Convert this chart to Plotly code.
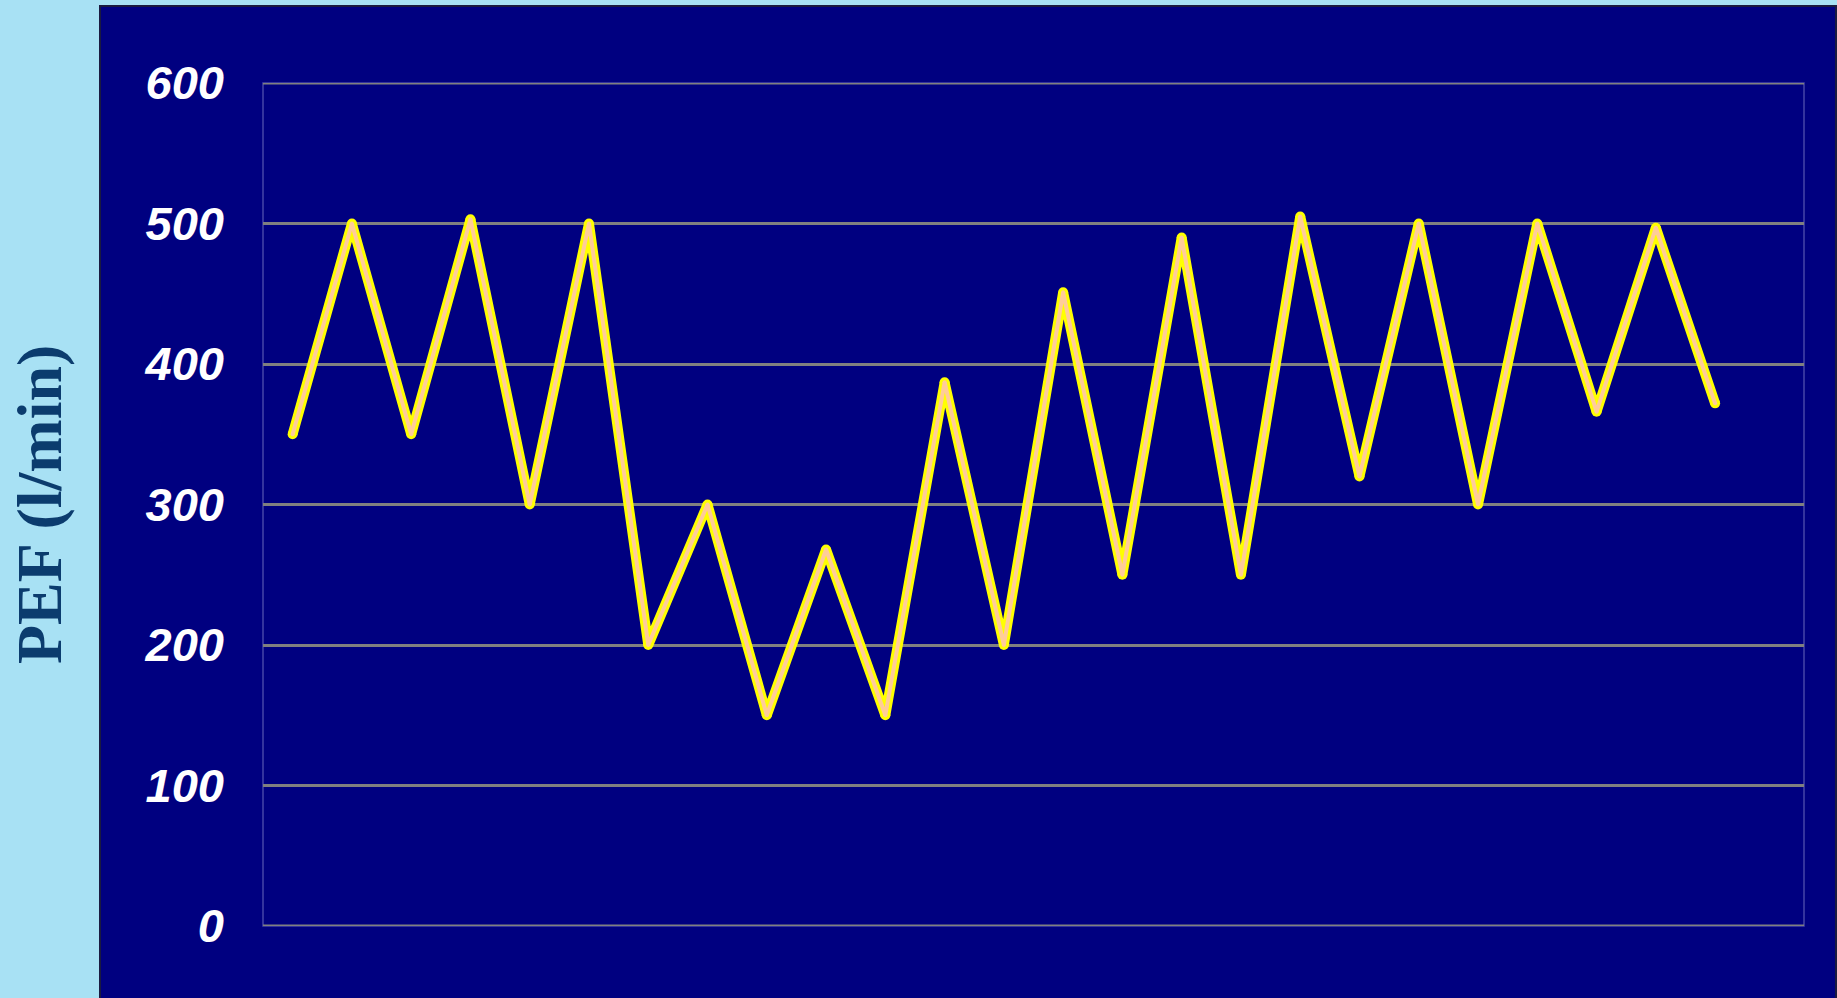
import plotly.graph_objects as go

days = list(range(1, 26))
pef = [350, 500, 350, 503, 300, 500, 200, 300, 150, 268, 150, 387, 200, 451,
       250, 490, 250, 505, 320, 500, 300, 500, 366, 497, 372]
y_ticks = [0, 100, 200, 300, 400, 500, 600]
y_title = "PEF (l/min)"

W, H = 1837, 998
ML, MR, MT, MB = 263, 33, 83, 72
PW, PH = W - ML - MR, H - MT - MB

def px_x(p):
    return (p - ML) / PW

def px_y(p):
    return (H - MB - p) / PH

fig = go.Figure()
fig.add_trace(go.Scatter(x=days, y=pef, mode="lines+markers",
                         line=dict(color="#FFFF00", width=10),
                         marker=dict(color="#FFFF00", size=10, line=dict(width=0)),
                         hoverinfo="skip", showlegend=False))
fig.add_trace(go.Scatter(x=days, y=pef, mode="lines+markers",
                         line=dict(color="#FFCC99", width=4),
                         marker=dict(color="#FFCC99", size=4, line=dict(width=0)),
                         showlegend=False))

fig.add_shape(type="rect", xref="paper", yref="paper",
              x0=px_x(100), x1=px_x(1836), y0=px_y(1004), y1=px_y(6),
              fillcolor="#000080", line=dict(color="#1a1a40", width=2),
              layer="below")
fig.add_shape(type="rect", xref="paper", yref="paper",
              x0=0, x1=1, y0=0, y1=1,
              fillcolor="rgba(0,0,0,0)", line=dict(color="#4646A6", width=1.5),
              layer="below")
for v in (y_ticks[0], y_ticks[-1]):
    fig.add_shape(type="line", xref="paper", yref="y", x0=0, x1=1, y0=v, y1=v,
                  line=dict(color="#808080", width=3), layer="below")

fig.add_annotation(text=y_title, xref="paper", yref="paper",
                   x=px_x(40), y=px_y(505), textangle=-90, showarrow=False,
                   xanchor="center", yanchor="middle",
                   font=dict(family="Liberation Serif", size=64, color="#0B3C6E",
                             weight="bold"))

fig.update_xaxes(range=[0.5, 26.5], showgrid=False, showticklabels=False,
                 zeroline=False, showline=False, ticks="")
fig.update_yaxes(range=[0, 600], tickvals=y_ticks, ticktext=[str(v) for v in y_ticks],
                 showgrid=True, gridcolor="#808080", gridwidth=3,
                 zeroline=False, showline=False, ticks="", ticklabelstandoff=38,
                 tickfont=dict(family="Liberation Sans", size=47, color="#FFFFFF",
                               weight="bold", style="italic"))

fig.update_layout(width=W, height=H,
                  margin=dict(l=ML, r=MR, t=MT, b=MB),
                  paper_bgcolor="#A8E1F4", plot_bgcolor="#000080",
                  showlegend=False)

fig.write_html("out.html")
